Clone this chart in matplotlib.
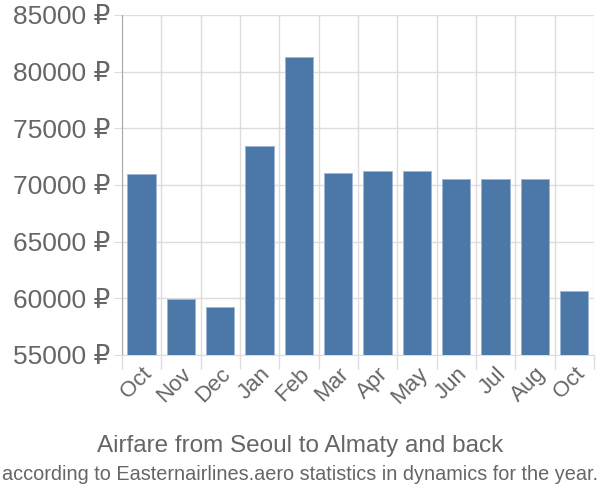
import matplotlib.pyplot as plt
import numpy as np

months = ['Oct', 'Nov', 'Dec', 'Jan', 'Feb', 'Mar', 'Apr', 'May', 'Jun', 'Jul', 'Aug', 'Oct']
prices = [70950, 59980, 59200, 73400, 81330, 71050, 71250, 71250, 70500, 70500, 70500, 60650]
y_ticks = [55000, 60000, 65000, 70000, 75000, 80000, 85000]

plt.rcParams['font.family'] = ['Liberation Sans', 'DejaVu Sans']
text_color = '#666666'

fig = plt.figure(figsize=(6, 5), dpi=100)
ax = fig.add_axes([0.203, 0.29, 0.787, 0.68])

x = np.arange(len(months))
ax.bar(x, prices, width=0.72, color='#4c78a8', edgecolor='#9db5d3', linewidth=0.6, zorder=3)

ax.set_xlim(-0.5, len(months) - 0.5)
ax.set_ylim(55000, 85000)
ax.set_yticks(y_ticks)
ax.set_yticklabels([f'{v} ₽' for v in y_ticks], fontsize=19, color=text_color)

ax.set_xticks(x)
ax.set_xticklabels(months, rotation=45, ha='right', rotation_mode='anchor',
                   fontsize=16, color=text_color)
ax.tick_params(axis='x', length=0, pad=6)
ax.tick_params(axis='y', length=6, color='#dddddd', pad=2)

# grid between categories
bounds = np.arange(len(months) + 1) - 0.5
ax.set_xticks(bounds, minor=True)
ax.tick_params(axis='x', which='minor', length=10, color='#dddddd', width=1)
ax.grid(True, which='minor', axis='x', color='#dddddd', linewidth=1, zorder=0)
ax.grid(True, which='major', axis='y', color='#dddddd', linewidth=1, zorder=0)

for side in ['top', 'right']:
    ax.spines[side].set_visible(False)
ax.spines['left'].set_color('#aaaaaa')
ax.spines['bottom'].set_color('#dddddd')

fig.text(0.5, 0.108, 'Airfare from Seoul to Almaty and back', ha='center', va='center',
         fontsize=17.5, color=text_color)
fig.text(0.5, 0.05, 'according to Easternairlines.aero statistics in dynamics for the year.',
         ha='center', va='center', fontsize=14.3, color=text_color)

fig.savefig('out.png', dpi=100)
